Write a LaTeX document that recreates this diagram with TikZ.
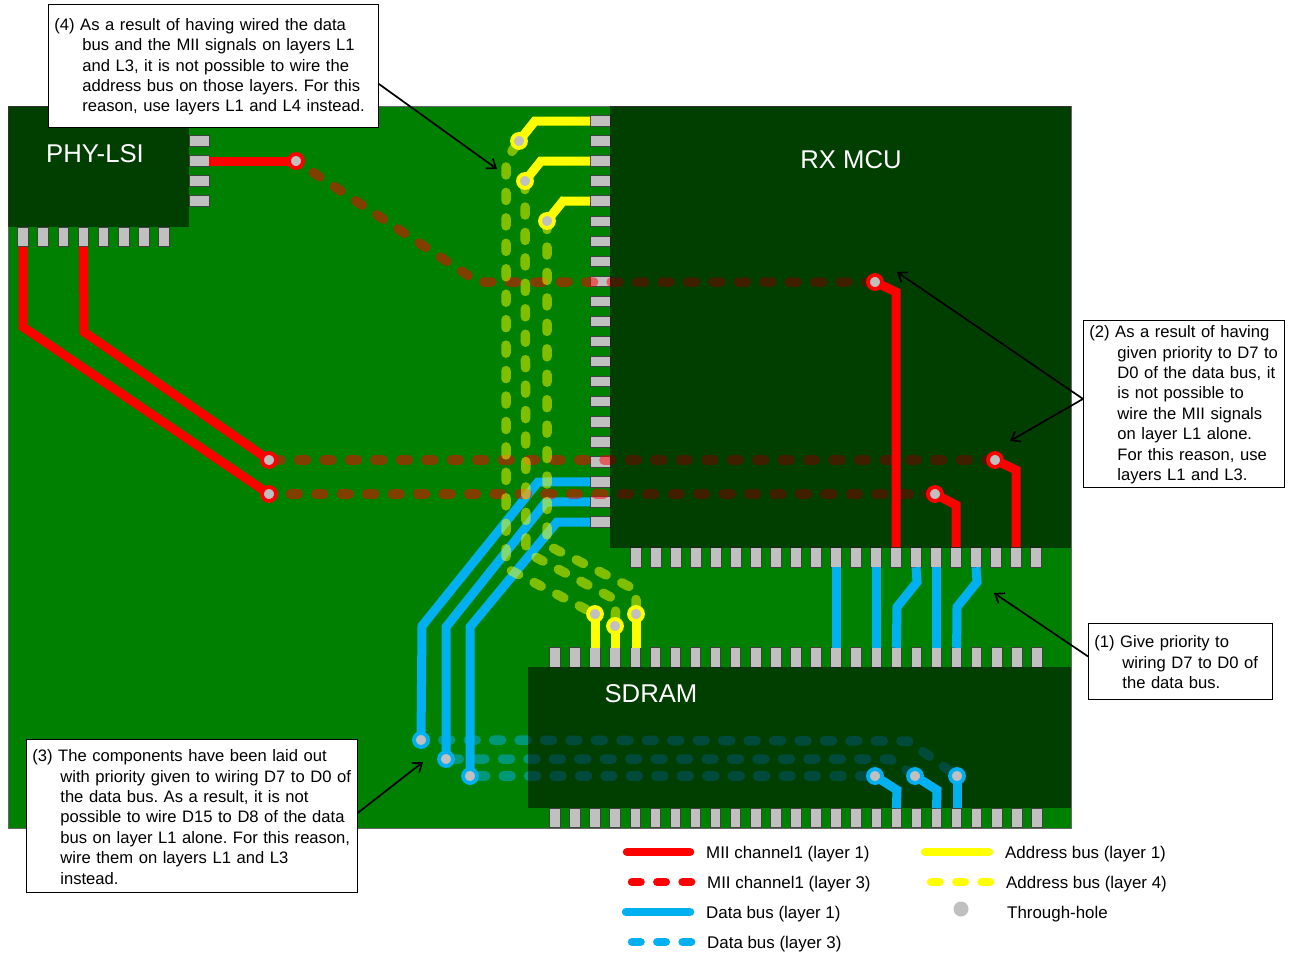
\documentclass[tikz,border=0pt]{standalone}
\usepackage{fontspec}
\setmainfont{Liberation Sans}
\usetikzlibrary{arrows.meta}
\definecolor{pcbgreen}{RGB}{0,128,0}
\definecolor{padgray}{RGB}{192,192,192}
\definecolor{miired}{RGB}{255,0,0}
\definecolor{datablue}{RGB}{0,176,240}
\definecolor{addryellow}{RGB}{255,255,0}
\pgfdeclarelayer{board}
\pgfdeclarelayer{traces}
\pgfdeclarelayer{chips}
\pgfdeclarelayer{uppertraces}
\pgfsetlayers{board,traces,chips,uppertraces,main}
\tikzset{
  chip/.style={fill=black,fill opacity=0.5,draw=none},
  chiplabel/.style={text=white,font=\fontsize{25.7}{26}\selectfont,inner sep=0pt},
  padv/.style={draw=black!75,fill=padgray,line width=1pt,minimum width=10.5pt,minimum height=19.5pt,inner sep=0pt,outer sep=0pt},
  padh/.style={draw=black!75,fill=padgray,line width=1pt,minimum width=20pt,minimum height=10.5pt,inner sep=0pt,outer sep=0pt},
  solidtrace/.style={line width=9pt},
  dashtrace/.style={line width=9.5pt,line cap=round,draw opacity=0.5,dash pattern=on 8pt off 17.45pt},
  legendsolid/.style={line width=8.5pt,line cap=round},
  legenddash/.style={line width=8.5pt,line cap=round,dash pattern=on 8.5pt off 16.8pt},
  via/.style={circle,fill=padgray,draw=#1,line width=3.8pt,minimum size=14pt,inner sep=0pt},
  note/.style={draw=black,fill=white,line width=0.8pt,anchor=north west,align=left,inner xsep=6pt,inner ysep=0pt,
    font=\fontsize{16.6}{20.4}\selectfont\frenchspacing,execute at begin node={\rule{0pt}{14pt}}},
  notearrow/.style={line width=1.7pt,-{Straight Barb[length=8pt,width=12pt]}},
  legendtext/.style={anchor=west,inner sep=0pt,font=\fontsize{16.9}{20}\selectfont},
}
\newcommand{\ind}{\hspace*{28pt}}
\begin{document}
\begin{tikzpicture}[x=1pt,y=-1pt]
  \useasboundingbox (0,0) rectangle (1289,956);

  \begin{pgfonlayer}{board}
    \draw[fill=pcbgreen,draw=black!60,line width=1pt] (8,106) rectangle (1071,828);

    % pads
    \foreach \i in {0,...,3}
      \node[padh] (phyR\i) at (199,{141+20*\i}) {};
    \foreach \i in {0,...,7}
      \node[padv] (phyB\i) at ({23+20.15*\i},237) {};
    \foreach \i in {0,...,20}
      \node[padh] (mcuL\i) at (600,{121+20.05*\i}) {};
    \foreach \i in {0,...,20}
      \node[padv] (mcuB\i) at ({636+20*\i},557.5) {};
    \foreach \i in {0,...,24}
      \node[padv] (ramT\i) at ({555+20.08*\i},657.5) {};
    \foreach \i in {0,...,24}
      \node[padv] (ramB\i) at ({555+20.08*\i},818) {};
  \end{pgfonlayer}

  \begin{pgfonlayer}{chips}
    \fill[chip] (8,106) rectangle (189,227);
    \fill[chip] (610,106) rectangle (1071,548);
    \fill[chip] (528,667) rectangle (1071,808);
  \end{pgfonlayer}

  \node[chiplabel] (phylabel) at (95,153.7) {PHY-LSI};
  \node[chiplabel] (mculabel) at (851,160) {RX MCU};
  \node[chiplabel] (ramlabel) at (651,693.7) {SDRAM};

  % through-holes
  \node[via=miired] (viaP) at (296,161) {};
  \node[via=miired] (viaQ) at (875,282) {};
  \node[via=miired] (viaR) at (269,460) {};
  \node[via=miired] (viaS) at (995,460) {};
  \node[via=miired] (viaT) at (269,494) {};
  \node[via=miired] (viaU) at (935,494) {};
  \node[via=addryellow] (viaA) at (519,141) {};
  \node[via=addryellow] (viaB) at (525,181) {};
  \node[via=addryellow] (viaC) at (547,221) {};
  \node[via=addryellow] (viaD) at (595,614) {};
  \node[via=addryellow] (viaE) at (615,626) {};
  \node[via=addryellow] (viaF) at (636,614) {};
  \node[via=datablue] (viaG) at (421,740) {};
  \node[via=datablue] (viaH) at (446,759) {};
  \node[via=datablue] (viaI) at (470,776) {};
  \node[via=datablue] (viaJ) at (875,776) {};
  \node[via=datablue] (viaK) at (915,776) {};
  \node[via=datablue] (viaL) at (957,776) {};

  \begin{pgfonlayer}{uppertraces}
    % layer 1, on top of the packages
    \draw[solidtrace,miired] (viaQ.center) -- (896,292) -- (896,547);
    \draw[solidtrace,miired] (viaU.center) -- (956,505) -- (956,547);
    \draw[solidtrace,miired] (viaS.center) -- (1016,470) -- (1016,547);
    \draw[solidtrace,datablue] (viaJ.center) -- (897,790) -- (ramB17.north);
    \draw[solidtrace,datablue] (viaK.center) -- (937,790) -- (ramB19.north);
    \draw[solidtrace,datablue] (viaL.center) -- (viaL.center |- ramB20.north);
  \end{pgfonlayer}

  \begin{pgfonlayer}{traces}
    % layer 1
    \draw[solidtrace,miired] (phyR1.east) -- (viaP.center);
    \draw[solidtrace,miired] (phyB0.south) -- (23,327) -- (viaT.center);
    \draw[solidtrace,miired] (phyB3.south) -- (84,332) -- (viaR.center);

    \draw[solidtrace,addryellow] (mcuL0.west) -- (535,121) -- (viaA.center);
    \draw[solidtrace,addryellow] (mcuL2.west) -- (541,161) -- (viaB.center);
    \draw[solidtrace,addryellow] (mcuL4.west) -- (563,201) -- (viaC.center);
    \draw[solidtrace,addryellow] (viaD.center) -- (viaD.center |- ramT2.north);
    \draw[solidtrace,addryellow] (viaE.center) -- (viaE.center |- ramT3.north);
    \draw[solidtrace,addryellow] (viaF.center) -- (viaF.center |- ramT4.north);

    \draw[solidtrace,datablue] (mcuL18.west) -- (538,482) -- (422,626) -- (viaG.center);
    \draw[solidtrace,datablue] (mcuL19.west) -- (546,502) -- (446,627) -- (viaH.center);
    \draw[solidtrace,datablue] (mcuL20.west) -- (557,522) -- (470,627) -- (viaI.center);
    \draw[solidtrace,datablue] (ramT14.north |- mcuB10.south) -- (ramT14.north);
    \draw[solidtrace,datablue] (ramT16.north |- mcuB12.south) -- (ramT16.north);
    \draw[solidtrace,datablue] (mcuB14.south) -- (917,582) -- (897,607) -- (ramT17.north);
    \draw[solidtrace,datablue] (ramT19.north |- mcuB15.south) -- (ramT19.north);
    \draw[solidtrace,datablue] (mcuB17.south) -- (977,582) -- (957,607) -- (ramT20.north);

    % layers 3 and 4
    \draw[dashtrace,miired,dash phase=4.65pt] (viaP.center) -- (478,282) -- (viaQ.center);
    \draw[dashtrace,miired,dash phase=21.35pt] (viaR.center) -- (viaS.center);
    \draw[dashtrace,miired,dash phase=4pt] (viaT.center) -- (viaU.center);
    \draw[dashtrace,addryellow,dash phase=20.9pt] (viaA.center) -- (506,160) -- (506,568) -- (viaD.center);
    \draw[dashtrace,addryellow,dash phase=24.9pt] (viaB.center) -- (526,552) -- (616,600) -- (viaE.center);
    \draw[dashtrace,addryellow,dash phase=24.9pt] (viaC.center) -- (547,545) -- (636,590) -- (viaF.center);
    \draw[dashtrace,datablue,dash phase=3.75pt] (viaG.center) -- (908,741) -- (viaL.center);
    \draw[dashtrace,datablue,dash phase=19.9pt] (viaH.center) -- (890,759) -- (viaK.center);
    \draw[dashtrace,datablue,dash phase=17.75pt] (viaI.center) -- (viaJ.center);
  \end{pgfonlayer}

  % notes
  \node[note,text width=318pt,minimum height=123pt] (noteD) at (48,4) {(4) As a result of having wired the data\\\ind bus and the MII signals on layers L1\\\ind and L3, it is not possible to wire the\\\ind address bus on those layers. For this\\\ind reason, use layers L1 and L4 instead.};
  \node[note,text width=189pt,minimum height=167pt] (noteB) at (1083,320) {(2) As a result of having\\\ind given priority to D7 to\\\ind D0 of the data bus, it\\\ind is not possible to\\\ind wire the MII signals\\\ind on layer L1 alone.\\\ind For this reason, use\\\ind layers L1 and L3.};
  \node[note,text width=172pt,minimum height=76pt] (noteA) at (1088,623) {(1) Give priority to\\\ind wiring D7 to D0 of\\\ind the data bus.};
  \node[note,text width=319pt,minimum height=153pt] (noteC) at (26,739) {(3) The components have been laid out\\\ind with priority given to wiring D7 to D0 of\\\ind the data bus. As a result, it is not\\\ind possible to wire D15 to D8 of the data\\\ind bus on layer L1 alone. For this reason,\\\ind wire them on layers L1 and L3\\\ind instead.};

  \coordinate (tipD) at (497,169);
  \coordinate (tipBa) at (897,272);
  \coordinate (tipBb) at (1010,441);
  \coordinate (tipA) at (994,593);
  \coordinate (tipC) at (423,762);
  \draw[notearrow] ([yshift=-18pt]noteD.east) -- (tipD);
  \draw[notearrow] ([yshift=5pt]noteB.west) -- (tipBa);
  \draw[notearrow] ([yshift=5pt]noteB.west) -- (tipBb);
  \draw[notearrow] ([yshift=5pt]noteA.west) -- (tipA);
  \draw[notearrow] ([yshift=3pt]noteC.east) -- (tipC);

  % legend
  \draw[legendsolid,miired] (627,852) -- (690,852);
  \draw[legenddash,miired] (632,882) -- (692,882);
  \draw[legendsolid,datablue] (626,912) -- (690,912);
  \draw[legenddash,datablue] (632,942) -- (692,942);
  \draw[legendsolid,addryellow] (925,852) -- (989,852);
  \draw[legenddash,addryellow] (931,882) -- (990,882);
  \fill[padgray] (961,909) circle (7.5pt);
  \node[legendtext] (legA) at (706,854.5) {MII channel1 (layer 1)};
  \node[legendtext] (legB) at (707,884.5) {MII channel1 (layer 3)};
  \node[legendtext] (legC) at (706,914.5) {Data bus (layer 1)};
  \node[legendtext] (legD) at (707,944.5) {Data bus (layer 3)};
  \node[legendtext] (legE) at (1005,854.5) {Address bus (layer 1)};
  \node[legendtext] (legF) at (1006,884.5) {Address bus (layer 4)};
  \node[legendtext] (legG) at (1007,914.5) {Through-hole};
\end{tikzpicture}
\end{document}
